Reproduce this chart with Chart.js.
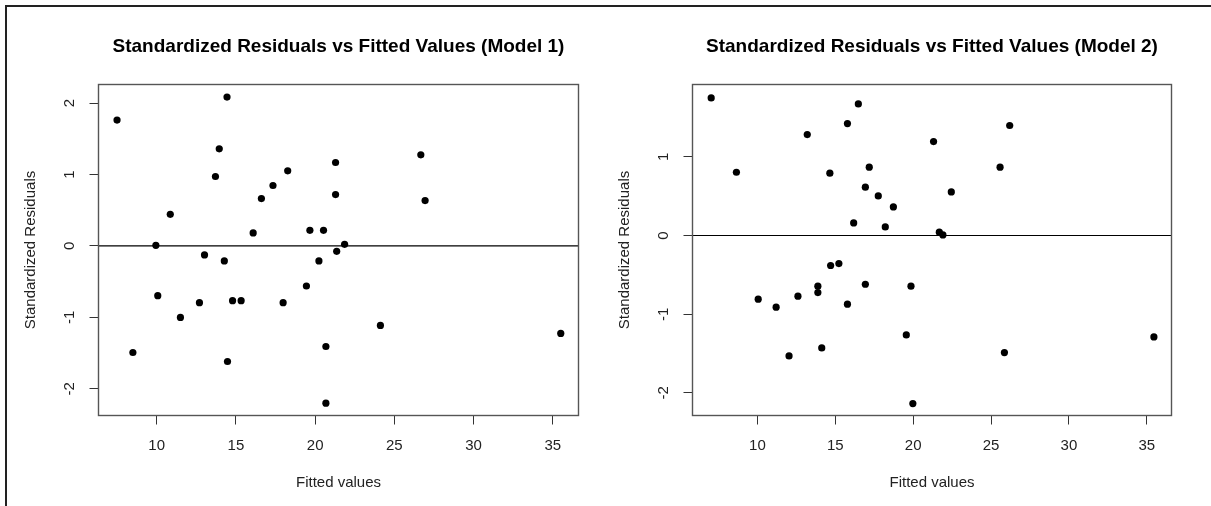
<!DOCTYPE html>
<html><head><meta charset="utf-8">
<script src="https://cdn.jsdelivr.net/npm/chart.js@4.4.1/dist/chart.umd.min.js"></script>
<style>
html,body{margin:0;padding:0;background:#fff;width:1211px;height:506px;overflow:hidden}
#frame{position:absolute;left:5px;top:5px;width:1210px;height:505px;border-left:2px solid #222;border-top:2px solid #222;box-sizing:border-box}
canvas{position:absolute;top:0}
#c1{left:0}
#c2{left:605px}
</style></head><body>
<div id="frame"></div>
<canvas id="c1" width="605" height="506"></canvas>
<canvas id="c2" width="606" height="506"></canvas>
<script>
// ---- data ----
const model1Fitted = [7.50, 8.50, 9.95, 10.07, 10.86, 11.50, 12.70, 13.02, 13.71, 13.95, 14.27, 14.44, 14.47, 14.79, 15.33, 16.09, 16.61, 17.34, 17.98, 18.27, 19.45, 19.67, 20.24, 20.53, 20.68, 20.68, 21.29, 21.29, 21.36, 21.86, 24.12, 26.67, 26.94, 35.50];
const model1Resid  = [1.762, -1.492, 0.008, -0.697, 0.443, -1.001, -0.795, -0.126, 0.972, 1.360, -0.210, 2.084, -1.618, -0.767, -0.767, 0.182, 0.663, 0.846, -0.795, 1.052, -0.561, 0.219, -0.210, 0.219, -1.408, -2.202, 1.168, 0.719, -0.075, 0.023, -1.113, 1.276, 0.635, -1.225];
const model2Fitted = [7.03, 8.65, 10.05, 11.20, 12.03, 12.60, 13.20, 13.88, 13.88, 14.13, 14.65, 14.70, 15.23, 15.78, 15.78, 16.18, 16.48, 16.93, 16.93, 17.18, 17.76, 18.21, 18.73, 19.56, 19.86, 19.98, 21.31, 21.68, 21.91, 22.45, 25.58, 25.86, 26.20, 35.46];
const model2Resid  = [1.748, 0.804, -0.809, -0.911, -1.530, -0.771, 1.283, -0.644, -0.725, -1.428, 0.792, -0.381, -0.356, 1.423, -0.873, 0.160, 1.672, 0.614, -0.619, 0.868, 0.503, 0.109, 0.363, -1.263, -0.644, -2.135, 1.194, 0.042, 0.008, 0.554, 0.868, -1.487, 1.398, -1.288];

const xTickValues = [10, 15, 20, 25, 30, 35];
const xTickLabels = ['10', '15', '20', '25', '30', '35'];
const y1TickValues = [-2, -1, 0, 1, 2];
const y1TickLabels = ['-2', '-1', '0', '1', '2'];
const y2TickValues = [-2, -1, 0, 1];
const y2TickLabels = ['-2', '-1', '0', '1'];

const title1 = 'Standardized Residuals vs Fitted Values (Model 1)';
const title2 = 'Standardized Residuals vs Fitted Values (Model 2)';
const xTitle = 'Fitted values';
const yTitle = 'Standardized Residuals';
const refLineY = 0;

const x1Range = [6.33, 36.62], y1Range = [-2.374, 2.26];
const x2Range = [5.83, 36.59], y2Range = [-2.287, 1.919];

const FONT = "'Liberation Sans', Arial, Helvetica, sans-serif";

const boxPlugin = {
  id: 'rbox',
  afterDatasetsDraw(chart) {
    const {ctx, chartArea: a} = chart;
    const ys = chart.scales.y;
    const y0 = ys.getPixelForValue(refLineY);
    ctx.save();
    ctx.strokeStyle = '#000';
    ctx.lineWidth = 1.2;
    ctx.beginPath(); ctx.moveTo(a.left, y0); ctx.lineTo(a.right, y0); ctx.stroke();
    ctx.strokeStyle = '#555';
    ctx.lineWidth = 1.4;
    ctx.strokeRect(a.left, a.top, a.right - a.left, a.bottom - a.top);
    ctx.restore();
  }
};

function panel(id, c) {
  const pts = c.xs.map((v, i) => ({x: v, y: c.ys[i]}));
  const tickFont = {family: FONT, size: 15};
  return new Chart(document.getElementById(id), {
    type: 'scatter',
    data: {datasets: [{data: pts, backgroundColor: '#000', borderWidth: 0, pointRadius: 3.6, pointHoverRadius: 3.6}]},
    options: {
      responsive: false, animation: false, events: [],
      layout: {padding: {left: 0, right: c.padRight, top: 0, bottom: 0}},
      plugins: {
        legend: {display: false}, tooltip: {enabled: false},
        title: {display: true, text: c.title, fullSize: false, color: '#000',
          font: {family: FONT, size: 19, weight: 'bold', lineHeight: 1.2},
          padding: {top: 35.6, bottom: 26.1}}
      },
      scales: {
        x: {
          type: 'linear', min: c.xRange[0], max: c.xRange[1],
          afterBuildTicks: s => { s.ticks = xTickValues.map(v => ({value: v})); },
          afterFit: s => { s.height = 90.5; },
          grid: {display: true, drawOnChartArea: false, drawTicks: true, tickLength: 9, color: '#333', lineWidth: 1},
          border: {display: false},
          ticks: {color: '#222', font: tickFont, padding: 12, maxRotation: 0, autoSkip: false,
            callback: (v, i) => xTickLabels[i]},
          title: {display: true, text: xTitle, color: '#222', font: tickFont, padding: {top: 0, bottom: 14.5}}
        },
        y: {
          type: 'linear', min: c.yRange[0], max: c.yRange[1],
          afterBuildTicks: s => { s.ticks = c.yTicks.map(v => ({value: v})); },
          afterFit: s => { s.width = c.yAxisWidth; },
          grid: {display: true, drawOnChartArea: false, drawTicks: true, tickLength: 9, color: '#333', lineWidth: 1},
          border: {display: false},
          ticks: {color: '#222', font: tickFont, padding: 12.8, minRotation: 90, maxRotation: 90, crossAlign: 'center', autoSkip: false,
            callback: (v, i) => c.yLabels[i]},
          title: {display: true, text: yTitle, color: '#222', font: tickFont, padding: {top: c.yTitlePad, bottom: 0}}
        }
      }
    },
    plugins: [boxPlugin]
  });
}

panel('c1', {xs: model1Fitted, ys: model1Resid, title: title1, xRange: x1Range, yRange: y1Range,
  yTicks: y1TickValues, yLabels: y1TickLabels, padRight: 26.5, yAxisWidth: 98.5, yTitlePad: 21.5});
panel('c2', {xs: model2Fitted, ys: model2Resid, title: title2, xRange: x2Range, yRange: y2Range,
  yTicks: y2TickValues, yLabels: y2TickLabels, padRight: 39.5, yAxisWidth: 87.5, yTitlePad: 10.5});
</script>
</body></html>
